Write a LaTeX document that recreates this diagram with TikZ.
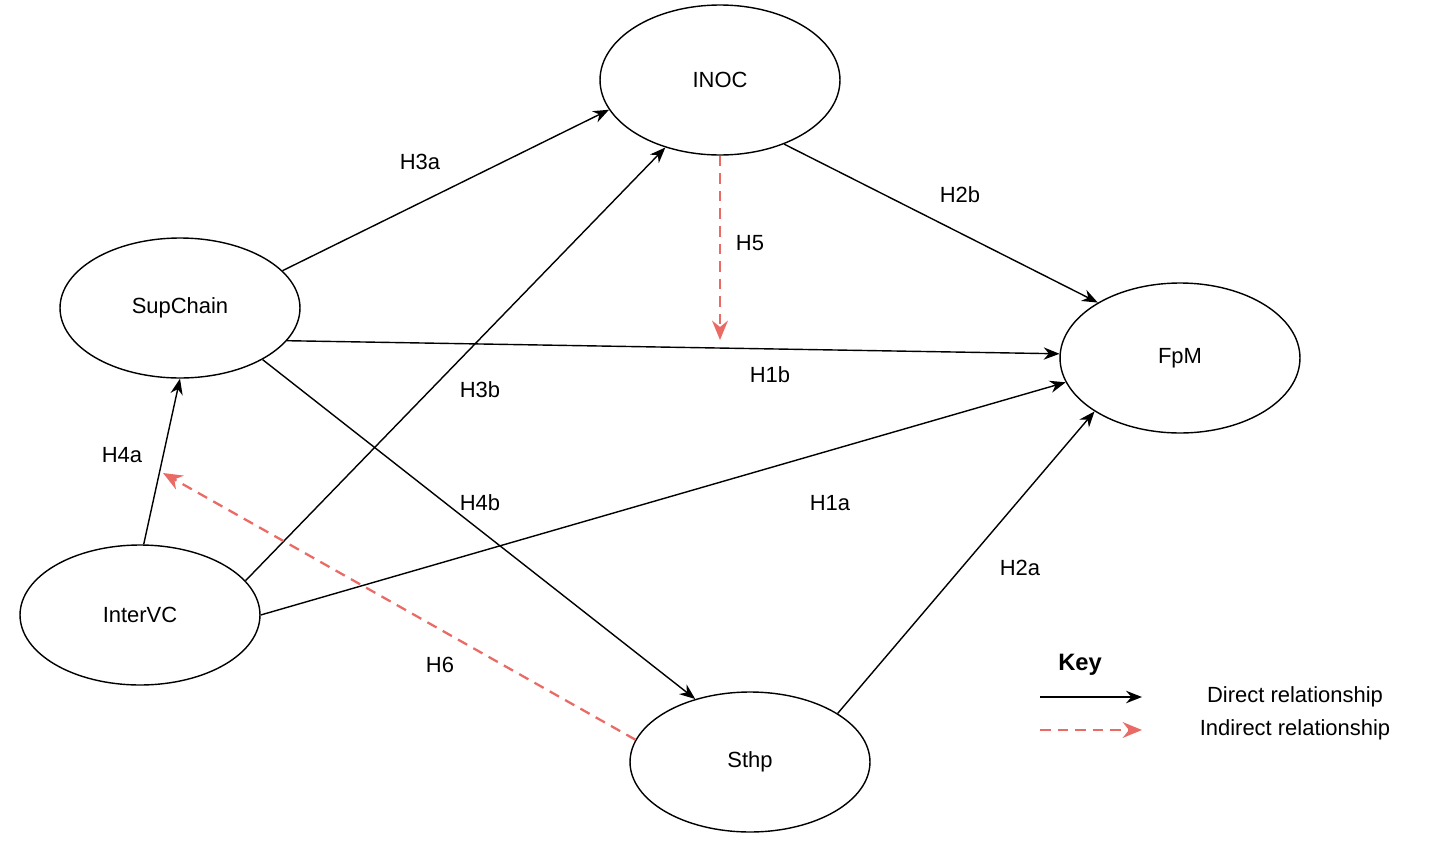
\documentclass[tikz,border=0pt]{standalone}
\usepackage{fontspec}
\setmainfont{Liberation Sans}
\usetikzlibrary{shapes.geometric,arrows.meta}
\definecolor{kred}{RGB}{234,107,102}
\begin{document}
\begin{tikzpicture}[x=0.02cm,y=-0.02cm,
  ell/.style={ellipse,draw,line width=0.8pt,minimum width=4.8cm,minimum height=2.8cm,inner sep=0pt,font=\fontsize{12.5}{15}\selectfont},
  big/.style={minimum height=3cm},
  dir/.style={line width=0.8pt,-{Stealth[length=9pt,width=7pt]}},
  ind/.style={line width=1.3pt,kred,dash pattern=on 6pt off 4pt,-{Stealth[length=11pt,width=9pt]}},
  lbl/.style={font=\fontsize{12.5}{15}\selectfont}]
\useasboundingbox (0,0) rectangle (1440,842);
\node[ell,big] (inoc) at (720,80) {INOC};
\node[ell] (sup) at (180,308) {SupChain};
\node[ell,big] (fpm) at (1180,358) {FpM};
\node[ell] (inter) at (140,615) {InterVC};
\node[ell] (sthp) at (750,762) {Sthp};
\coordinate (h5e) at (720,340);
\coordinate (h6e) at (163,473);
\draw[dir] (sup.20) -- (inoc.195.5);
\draw[dir] (inter.18) -- (inoc.231);
\draw[dir] (inoc.315) -- (fpm.146);
\draw[ind] (inoc.270) -- (h5e);
\draw[dir] (sup.343) -- (fpm.178.6);
\draw[dir] (sup.328) -- (sthp.131);
\draw[dir] (inter.0) -- (fpm.192);
\draw[dir] (sthp.29) -- (fpm.212.5);
\draw[dir] (inter.87) -- (sup.270);
\draw[ind] (sthp.169) -- (h6e);
\node[lbl] (l3a) at (420,162) {H3a};
\node[lbl] (l3b) at (480,390) {H3b};
\node[lbl] (l2b) at (960,195) {H2b};
\node[lbl] (l5) at (750,243) {H5};
\node[lbl] (l1b) at (770,375) {H1b};
\node[lbl] (l4b) at (480,503) {H4b};
\node[lbl] (l1a) at (830,503) {H1a};
\node[lbl] (l2a) at (1020,568) {H2a};
\node[lbl] (l4a) at (122,455) {H4a};
\node[lbl] (l6) at (440,665) {H6};
\node[lbl,font=\fontsize{13.5}{16}\selectfont\bfseries] (key) at (1080,665) {Key};
\coordinate (k1s) at (1040,697); \coordinate (k1e) at (1142,697);
\coordinate (k2s) at (1040,730); \coordinate (k2e) at (1142,730);
\draw[dir,line width=1.4pt] (k1s) -- (k1e);
\draw[ind] (k2s) -- (k2e);
\node[lbl] (kd) at (1295,697) {Direct relationship};
\node[lbl] (ki) at (1295,730) {Indirect relationship};
\end{tikzpicture}
\end{document}
